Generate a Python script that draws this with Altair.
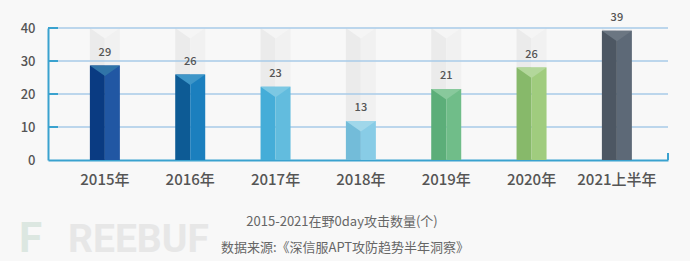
import altair as alt
import pandas as pd

# ---- data ----
years = ["2015年", "2016年", "2017年", "2018年", "2019年", "2020年", "2021上半年"]
labels = [29, 26, 23, 13, 21, 26, 39]                 # printed value labels
heights = [28.6, 25.9, 22.2, 11.8, 21.5, 28.0, 39.2]   # drawn bar heights
left_colors = ["#0a3b82", "#0d5b95", "#45add8", "#73bcd9", "#5cae79", "#87b96a", "#4d5763"]
right_colors = ["#2157a3", "#1b7fbe", "#62bcde", "#88cce6", "#70bd89", "#a0cc7e", "#5d6977"]
top_colors = ["#3074a8", "#3e96c8", "#7cc8e3", "#a0d7ea", "#88c99c", "#b3d79b", "#6b7682"]
y_ticks = [0, 10, 20, 30, 40]
y_max = 40
captions = ["2015-2021在野0day攻击数量(个)", "数据来源:《深信服APT攻防趋势半年洞察》"]
wm_mark = ["F"]
wm_text = ["REEBUF"]

df = pd.DataFrame({
    "year": years, "label": labels, "height": heights,
    "top": [y_max] * len(years),
    "lc": left_colors, "rc": right_colors, "tc": top_colors,
})
grid_df = pd.DataFrame({"v": y_ticks[1:]})

W, H = 620, 132
FONT = "Noto Sans CJK SC"
AXIS_BLUE = "#3aa2cf"
HALF = 15
CHEVRON = "M-1,-1L1,-1L0,-0.3Z"

xscale = alt.Scale(domain=years, paddingInner=0.6484, paddingOuter=0.457, align=0.537)
yscale = alt.Scale(domain=[0, y_max], nice=False, zero=True)

x_ax = alt.Axis(title=None, labelAngle=0, ticks=False, grid=False,
                domainColor=AXIS_BLUE, domainWidth=2,
                labelFont=FONT, labelFontSize=15, labelColor="#555555",
                labelFontWeight=500, labelPadding=12)
y_ax = alt.Axis(title=None, values=y_ticks, ticks=False, grid=False,
                domainColor=AXIS_BLUE, domainWidth=2,
                labelFont=FONT, labelFontSize=13, labelColor="#555555",
                labelFontWeight=500, labelPadding=13)


def X():
    return alt.X("year:N", sort=years, scale=xscale, axis=x_ax, title=None)


def Y(field):
    return alt.Y(f"{field}:Q", scale=yscale, axis=y_ax, title=None)


base = alt.Chart(df)

gray_left = base.mark_bar(width=HALF, xOffset=-HALF / 2, color="#ebebeb").encode(
    x=X(), y=Y("height"), y2="top:Q")
gray_right = base.mark_bar(width=HALF, xOffset=HALF / 2, color="#f1f1f1").encode(
    x=X(), y=Y("height"), y2="top:Q")
gray_top = base.mark_point(shape=CHEVRON, size=900, filled=True, opacity=1,
                           color="#f5f5f5", yOffset=15, strokeWidth=0).encode(
    x=X(), y=Y("top"))

grid = alt.Chart(grid_df).mark_rule(color="#a9cbe8", strokeWidth=1.5).encode(
    y=Y("v"), x=alt.value(0), x2=alt.value(W))
inner_ticks = alt.Chart(grid_df).mark_rule(color=AXIS_BLUE, strokeWidth=2).encode(
    y=Y("v"), x=alt.value(0), x2=alt.value(10))

bar_left = base.mark_bar(width=HALF, xOffset=-HALF / 2).encode(
    x=X(), y=Y("height"), y2=alt.datum(0),
    color=alt.Color("lc:N", scale=None))
bar_right = base.mark_bar(width=HALF, xOffset=HALF / 2).encode(
    x=X(), y=Y("height"), y2=alt.datum(0),
    color=alt.Color("rc:N", scale=None))
bar_top = base.mark_point(shape=CHEVRON, size=900, filled=True, opacity=1,
                          yOffset=15, strokeWidth=0).encode(
    x=X(), y=Y("height"),
    fill=alt.Fill("tc:N", scale=None))

value_text = base.mark_text(dy=-13, fontSize=11, color="#555555", font=FONT,
                            fontWeight=500).encode(
    x=X(), y=Y("height"), text="label:Q")

end_tick = alt.Chart(grid_df).mark_rule(color=AXIS_BLUE, strokeWidth=2).encode(
    x=alt.value(W), y=alt.value(H - 7), y2=alt.value(H))

wm1 = alt.Chart(pd.DataFrame({"t": wm_mark})).mark_text(
    font="Roboto", fontWeight="bold", fontSize=42, color="#dce7e1",
    align="left", baseline="alphabetic").encode(
    x=alt.value(-29), y=alt.value(224), text="t:N")
wm2 = alt.Chart(pd.DataFrame({"t": wm_text})).mark_text(
    font="Roboto", fontWeight="bold", fontSize=39, color="#e7e7e7",
    align="left", baseline="alphabetic").encode(
    x=alt.value(20), y=alt.value(224), text="t:N")

cap1 = alt.Chart(pd.DataFrame({"t": captions[:1]})).mark_text(
    font=FONT, fontSize=13, color="#666666", align="center", baseline="middle").encode(
    x=alt.value(294), y=alt.value(194), text="t:N")
cap2 = alt.Chart(pd.DataFrame({"t": captions[1:]})).mark_text(
    font=FONT, fontSize=13, color="#666666", align="center", baseline="middle").encode(
    x=alt.value(297), y=alt.value(220), text="t:N")

chart = alt.layer(
    gray_left, gray_right, gray_top, grid, inner_ticks,
    bar_left, bar_right, bar_top, value_text, end_tick,
    wm1, wm2, cap1, cap2,
).properties(
    width=W, height=H,
    autosize=alt.AutoSizeParams(type="none"),
    padding={"left": 48, "top": 28, "right": 22, "bottom": 101},
    background="#f8f8f8",
).configure_view(stroke=None)

chart.save("out.html", embed_options={"renderer": "svg", "actions": False})
